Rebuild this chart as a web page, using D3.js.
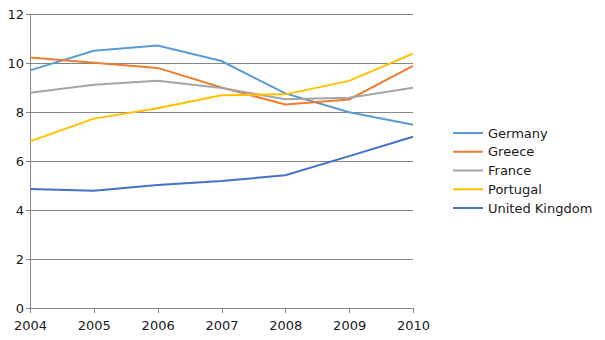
<!DOCTYPE html>
<html>
<head>
<meta charset="utf-8">
<script src="https://cdn.jsdelivr.net/npm/d3@7"></script>
<style>
  html, body { margin: 0; padding: 0; background: #fff; }
  svg { display: block; }
  text { font-family: "DejaVu Sans", sans-serif; fill: #1a1a1a; }
</style>
</head>
<body>
<svg id="chart" width="605" height="340"></svg>
<script>
// Years along the x axis
const years = [2004, 2005, 2006, 2007, 2008, 2009, 2010];

// Series values per country
const germany  = [9.70, 10.50, 10.71, 10.08, 8.76, 7.99, 7.48];
const greece   = [10.22, 10.01, 9.80, 9.00, 8.31, 8.51, 9.88];
const france   = [8.79, 9.11, 9.28, 8.98, 8.52, 8.58, 8.99];
const portugal = [6.80, 7.73, 8.15, 8.68, 8.72, 9.27, 10.38];
const uk       = [4.86, 4.79, 5.02, 5.18, 5.42, 6.20, 6.99];

const seriesNames = ["Germany", "Greece", "France", "Portugal", "United Kingdom"];
const seriesValues = [germany, greece, france, portugal, uk];
const seriesColors = ["#5B9BD5", "#ED7D31", "#A5A5A5", "#FFC000", "#4472C4"];

const yTicks = [0, 2, 4, 6, 8, 10, 12];

const svg = d3.select("#chart");
const margin = { left: 30, right: 192, top: 14, bottom: 32 };
const W = 605, H = 340;

const x = d3.scaleLinear().domain([2004, 2010]).range([margin.left, W - margin.right]);
const y = d3.scaleLinear().domain([0, 12]).range([H - margin.bottom, margin.top]);

const gridColor = "#868686";

// Horizontal gridlines + left ticks
const yAxis = d3.axisLeft(y)
  .tickValues(yTicks)
  .tickSize(-(x.range()[1] - x.range()[0]))
  .tickSizeOuter(0)
  .tickPadding(6)
  .tickFormat(d3.format("d"));

const gy = svg.append("g")
  .attr("transform", `translate(${margin.left},0)`)
  .call(yAxis);
gy.select(".domain").remove();
gy.selectAll(".tick line").attr("stroke", gridColor).attr("shape-rendering", "crispEdges");
gy.selectAll(".tick text").attr("font-size", 13).attr("x", -6);
// small outward ticks on the value axis
gy.selectAll(".tick").append("line")
  .attr("x1", -4).attr("x2", 0)
  .attr("stroke", gridColor).attr("shape-rendering", "crispEdges");

// Vertical axis line
svg.append("line")
  .attr("x1", margin.left).attr("x2", margin.left)
  .attr("y1", y(12)).attr("y2", y(0))
  .attr("stroke", gridColor).attr("shape-rendering", "crispEdges");

// Category axis
const xAxis = d3.axisBottom(x)
  .tickValues(years)
  .tickSize(5)
  .tickSizeOuter(0)
  .tickPadding(8)
  .tickFormat(d3.format("d"));

const gx = svg.append("g")
  .attr("transform", `translate(0,${y(0)})`)
  .call(xAxis);
gx.select(".domain").attr("stroke", gridColor).attr("shape-rendering", "crispEdges");
gx.selectAll(".tick line").attr("stroke", gridColor).attr("shape-rendering", "crispEdges");
gx.selectAll(".tick text").attr("font-size", 13);

// Series lines
const line = d3.line()
  .x((d, i) => x(years[i]))
  .y(d => y(d));

svg.append("g")
  .selectAll("path")
  .data(seriesValues)
  .join("path")
  .attr("d", d => line(d))
  .attr("fill", "none")
  .attr("stroke", (d, i) => seriesColors[i])
  .attr("stroke-width", 2);

// Legend
const legend = svg.append("g").attr("transform", "translate(453,133)");
const rows = legend.selectAll("g")
  .data(seriesNames)
  .join("g")
  .attr("transform", (d, i) => `translate(0,${i * 18.75})`);
rows.append("line")
  .attr("x1", 0).attr("x2", 30)
  .attr("stroke", (d, i) => seriesColors[i])
  .attr("stroke-width", 2);
rows.append("text")
  .attr("x", 35)
  .attr("dy", "0.35em")
  .attr("font-size", 13)
  .text(d => d);
</script>
</body>
</html>
